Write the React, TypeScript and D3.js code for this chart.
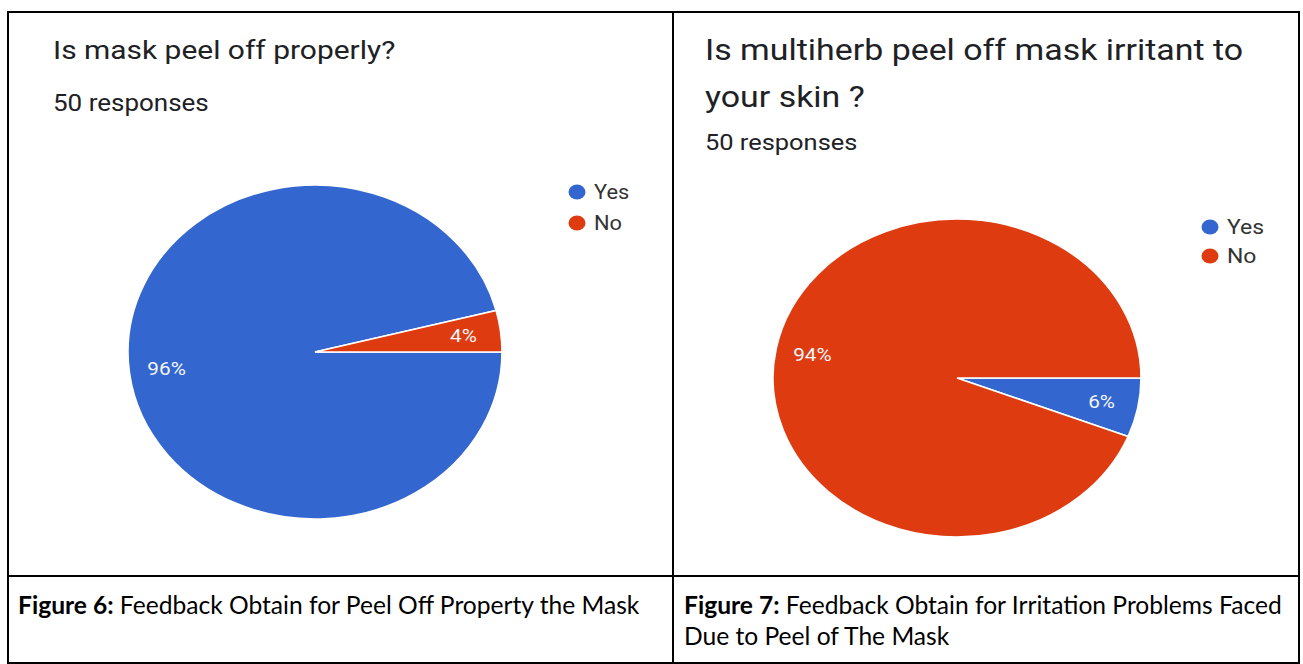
import React from 'react';
import * as d3 from 'd3';

// answer categories, shared by both charts
const categories = ['Yes', 'No'];
const colors = ['#3367cf', '#df3b10'];

// chart 1: Is mask peel off properly?
const peelValues = [48, 2];
const peelTitle = ['Is mask peel off properly?'];

// chart 2: irritation
const irritValues = [3, 47];
const irritTitle = ['Is multiherb peel off mask irritant to', 'your skin ?'];

const responses = '50 responses';

const captions = [
  { bold: 'Figure 6:', lines: [' Feedback Obtain for Peel Off Property the Mask'] },
  { bold: 'Figure 7:', lines: [' Feedback Obtain for Irritation Problems Faced', 'Due to Peel of The Mask'] }
];

const W = 1303;
const H = 664;
const SX = 1.13; // the screenshot is stretched horizontally

interface PieProps {
  values: number[];
  cx: number;
  cy: number;
  rx: number;
  ry: number;
}

function Pie({ values, cx, cy, rx, ry }: PieProps) {
  const R = 100;
  const total = d3.sum(values);
  const pie = d3.pie<number>()
    .value(d => d)
    .sort(null)
    .startAngle(Math.PI / 2)
    .endAngle(Math.PI / 2 + 2 * Math.PI);
  const arcs = pie(values);
  const arc = d3.arc<d3.PieArcDatum<number>>().innerRadius(0).outerRadius(R);
  const labelArc = d3.arc<d3.PieArcDatum<number>>().innerRadius(R * 0.8).outerRadius(R * 0.8);
  const fmt = d3.format('.0%');

  return (
    <g>
      <g transform={`translate(${cx},${cy}) scale(${rx / R},${ry / R})`}>
        {arcs.map((a, i) => (
          <path key={i} d={arc(a) || ''} fill={colors[i]} stroke="#fff" strokeWidth={1.6}
            vectorEffect="non-scaling-stroke" />
        ))}
      </g>
      {arcs.map((a, i) => {
        const [x, y] = labelArc.centroid(a);
        const px = cx + x * rx / R;
        return (
          <text key={i} x={0} y={cy + y * ry / R} dy="0.35em" textAnchor="middle"
            fill="#f4f6fb" fontSize={18.5} fontFamily="Roboto"
            transform={`translate(${px},0) scale(1.12,1)`}>
            {fmt(a.data / total)}
          </text>
        );
      })}
    </g>
  );
}

function Legend({ x, y, gap, size }: { x: number; y: number; gap: number; size: number }) {
  return (
    <g>
      {categories.map((c, i) => (
        <g key={c} transform={`translate(${x},${y + i * gap})`}>
          <ellipse cx={0} cy={0} rx={8.5} ry={7.5} fill={colors[i]} />
          <text x={0} y={0} dy="0.35em" fontSize={size} fontFamily="Roboto" fill="#333"
            transform={`translate(17,0) scale(1.12,1)`}>{c}</text>
        </g>
      ))}
    </g>
  );
}

function Title({ x, ys, lines, size }: { x: number; ys: number[]; lines: string[]; size: number }) {
  return (
    <g transform={`translate(${x},0) scale(${SX},1)`}>
      {lines.map((l, i) => (
        <text key={i} x={0} y={ys[i]} fontSize={size} fontFamily="Roboto" fill="#202124">{l}</text>
      ))}
    </g>
  );
}

export default function App() {
  const left = 8, mid = 673, right = 1299, top = 12, row = 576, bottom = 663;
  return (
    <div style={{ position: 'absolute', left: 0, top: 0, background: '#fff' }}>
      <svg width={W} height={H} style={{ display: 'block' }}>
        <rect x={0} y={0} width={W} height={H} fill="#fff" />

        {/* chart 1 */}
        <Title x={53} ys={[59]} lines={peelTitle} size={26.5} />
        <Title x={53} ys={[111]} lines={[responses]} size={23} />
        <Pie values={peelValues} cx={315} cy={352} rx={187} ry={167} />
        <Legend x={577} y={192} gap={31} size={19.5} />

        {/* chart 2 */}
        <Title x={705} ys={[60, 107]} lines={irritTitle} size={30} />
        <Title x={705} ys={[150]} lines={[responses]} size={22.5} />
        <Pie values={irritValues} cx={957} cy={378} rx={184} ry={159} />
        <Legend x={1210} y={227} gap={29} size={20.5} />

        {/* captions */}
        {captions.map((c, i) => {
          const x0 = i === 0 ? 18 : 684;
          return (
            <text key={i} fontFamily="Lato" fontSize={24.6} fill="#000">
              <tspan x={x0} y={614} fontWeight="bold">{c.bold}</tspan>
              <tspan>{c.lines[0]}</tspan>
              {c.lines.slice(1).map((l, j) => (
                <tspan key={j} x={x0} y={645 + j * 31}>{l}</tspan>
              ))}
            </text>
          );
        })}

        {/* table borders */}
        <g stroke="#000" strokeWidth={2} fill="none">
          <rect x={left} y={top} width={right - left} height={bottom - top} />
          <line x1={mid} y1={top} x2={mid} y2={bottom} />
          <line x1={left} y1={row} x2={right} y2={row} />
        </g>
      </svg>
    </div>
  );
}
